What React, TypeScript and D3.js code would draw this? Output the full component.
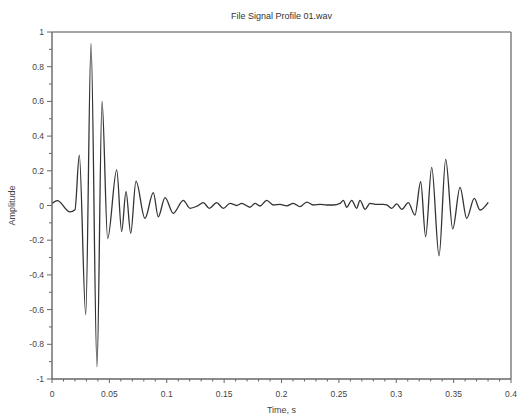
import React from "react";
import * as d3 from "d3";

const W = 518;
const H = 416;
const TITLE = "File Signal Profile 01.wav";
const X_LABEL = "Time, s";
const Y_LABEL = "Amplitude";

const xMajorTicks = [0, 0.05, 0.1, 0.15, 0.2, 0.25, 0.3, 0.35, 0.4];
const xTickLabels = ["0", "0.05", "0.1", "0.15", "0.2", "0.25", "0.3", "0.35", "0.4"];
const yMajorTicks = [-1, -0.8, -0.6, -0.4, -0.2, 0, 0.2, 0.4, 0.6, 0.8, 1];
const yTickLabels = ["-1", "-0.8", "-0.6", "-0.4", "-0.2", "0", "0.2", "0.4", "0.6", "0.8", "1"];

// Signal samples (time in s, amplitude)
const time = [
  0, 0.0046, 0.0157, 0.02, 0.0238, 0.0294, 0.034, 0.0392, 0.0436, 0.0485,
  0.0564, 0.0607, 0.0645, 0.0686, 0.0732, 0.081, 0.0883, 0.0926, 0.0985, 0.1057,
  0.1144, 0.1203, 0.1261, 0.1319, 0.1371, 0.1435, 0.1493, 0.1551, 0.161, 0.1653,
  0.1725, 0.1769, 0.1813, 0.1871, 0.1929, 0.1987, 0.2045, 0.2103, 0.2161, 0.222,
  0.2277, 0.2336, 0.2394, 0.2451, 0.251, 0.2539, 0.2568, 0.2612, 0.2655, 0.2684,
  0.2728, 0.2771, 0.283, 0.2887, 0.2917, 0.296, 0.3004, 0.3048, 0.3105, 0.3163,
  0.3213, 0.3256, 0.3309, 0.3373, 0.3431, 0.3492, 0.3556, 0.3614, 0.368, 0.373,
  0.3802,
];
const amplitude = [
  0.012, 0.028, -0.037, -0.025, 0.29, -0.63, 0.935, -0.93, 0.6, -0.19,
  0.205, -0.15, 0.08, -0.16, 0.14, -0.074, 0.074, -0.065, 0.045, -0.045,
  0.03, -0.016, -0.005, 0.016, -0.016, 0.016, -0.016, 0.012, 0.0, 0.012,
  -0.01, 0.012, -0.003, 0.03, 0.003, 0.006, -0.002, 0.012, -0.007, 0.02,
  0.003, 0.006, 0.003, 0.003, 0.012, 0.03, -0.01, 0.03, -0.016, 0.03,
  -0.022, 0.012, 0.006, 0.006, 0.003, -0.016, 0.009, -0.022, 0.016, -0.055,
  0.137, -0.18, 0.22, -0.29, 0.266, -0.135, 0.105, -0.074, 0.041, -0.026,
  0.018,
];

const margin = { left: 52, right: 7, top: 32, bottom: 37 };

export default function App() {
  const x = d3.scaleLinear().domain([0, 0.4]).range([margin.left, W - margin.right]);
  const y = d3.scaleLinear().domain([-1, 1]).range([H - margin.bottom, margin.top]);
  const pts = time.map((t, i) => [t, amplitude[i]] as [number, number]);
  const line = d3
    .line<[number, number]>()
    .x((d) => x(d[0]))
    .y((d) => y(d[1]))
    .curve(d3.curveMonotoneX);

  const xMinor = d3.range(0, 41).map((i) => i / 100);
  const yMinor = d3.range(-10, 11).map((i) => i / 10);
  const x0 = x(0), x1 = x(0.4), y0 = y(-1), y1 = y(1);
  const font = "'Liberation Sans', Arial, sans-serif";
  const textColor = "#444";
  const axisColor = "#666";

  return (
    <>
      <style>{`body{margin:0}`}</style>
      <svg width={W} height={H} style={{ display: "block" }} fontFamily={font}>
        <rect x={0} y={0} width={W} height={H} fill="#fff" />
        <text x={(x0 + x1) / 2} y={19} textAnchor="middle" fontSize={9} fill="#333">
          {TITLE}
        </text>
        {/* frame */}
        <line x1={x0} x2={x1} y1={y1} y2={y1} stroke="#888" strokeWidth={1.6} />
        <line x1={x1} x2={x1} y1={y1} y2={y0} stroke="#888" strokeWidth={1.6} />
        {/* curve */}
        <path d={line(pts) ?? ""} fill="none" stroke="#333" strokeWidth={1.3} />
        {/* y axis */}
        <line x1={x0} x2={x0} y1={y1} y2={y0} stroke={axisColor} strokeWidth={1.4} />
        {yMinor.map((v, i) => (
          <line key={"ym" + i} x1={x0 - (i % 2 === 0 ? 5 : 3)} x2={x0} y1={y(v)} y2={y(v)} stroke={axisColor} strokeWidth={1} />
        ))}
        {yMajorTicks.map((v, i) => (
          <text key={"yl" + i} x={x0 - 8} y={y(v) + 3} textAnchor="end" fontSize={8.5} fill={textColor}>
            {yTickLabels[i]}
          </text>
        ))}
        {/* x axis */}
        <line x1={x0} x2={x1} y1={y0} y2={y0} stroke={axisColor} strokeWidth={1.4} />
        {xMinor.map((v, i) => (
          <line key={"xm" + i} x1={x(v)} x2={x(v)} y1={y0} y2={y0 + (i % 5 === 0 ? 4 : 2.5)} stroke={axisColor} strokeWidth={1} />
        ))}
        {xMajorTicks.map((v, i) => (
          <text key={"xl" + i} x={x(v)} y={y0 + 18} textAnchor="middle" fontSize={8.5} fill={textColor}>
            {xTickLabels[i]}
          </text>
        ))}
        <text x={(x0 + x1) / 2} y={413} textAnchor="middle" fontSize={9} fill={textColor}>
          {X_LABEL}
        </text>
        <text transform={`translate(15,${(y0 + y1) / 2}) rotate(-90)`} textAnchor="middle" fontSize={9} fill={textColor}>
          {Y_LABEL}
        </text>
      </svg>
    </>
  );
}
